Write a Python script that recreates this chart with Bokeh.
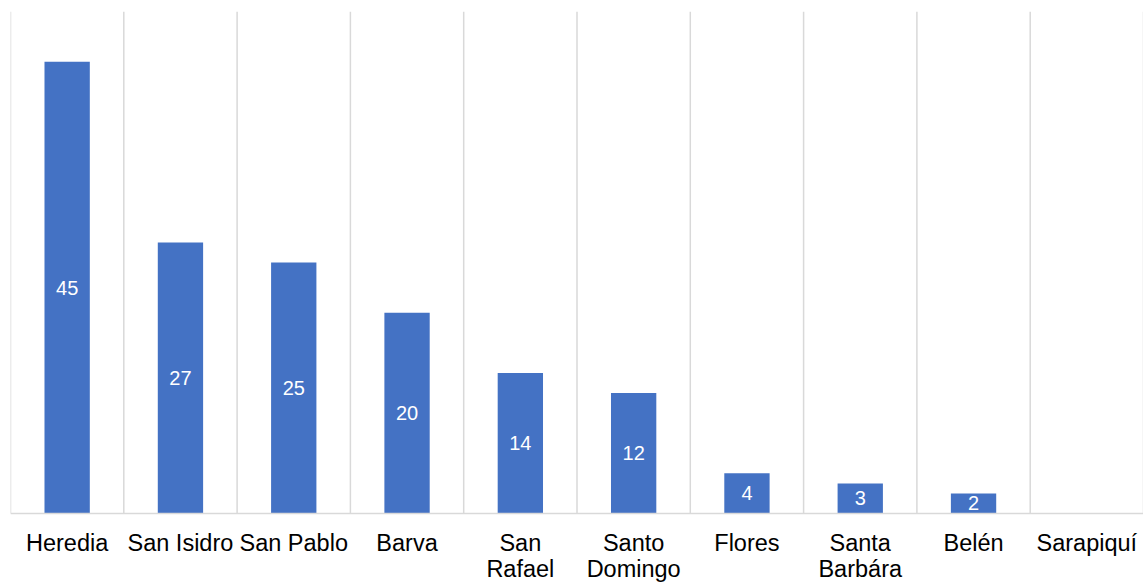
from bokeh.plotting import figure
from bokeh.models import ColumnDataSource, Range1d, LabelSet, Span
from bokeh.core.properties import value
from bokeh.embed import file_html
from bokeh.resources import INLINE

categories = ["Heredia", "San Isidro", "San Pablo", "Barva", "San\nRafael",
              "Santo\nDomingo", "Flores", "Santa\nBarbára", "Belén", "Sarapiquí"]
values = [45, 27, 25, 20, 14, 12, 4, 3, 2, 0]
y_max = 50

n = len(categories)
xs = [i + 0.5 for i in range(n)]
parts = [c.split("\n") for c in categories]
src = ColumnDataSource(dict(
    x=xs,
    top=values,
    mid=[v / 2 for v in values],
    zero=[0] * n,
    line1=[pp[0] for pp in parts],
    line2=[pp[1] if len(pp) > 1 else "" for pp in parts],
    lab=[str(v) if v > 0 else "" for v in values],
))

# frame spans from 11px to 582px; the value axis (0..50) occupies 11..513px
H, top_pad, plot_h = 582, 11, 502
below = (H - top_pad - plot_h) * y_max / plot_h

p = figure(width=1143, height=H, output_backend="svg", toolbar_location=None,
           x_range=Range1d(0, n), y_range=Range1d(-below, y_max),
           min_border_left=10, min_border_right=0, min_border_top=top_pad, min_border_bottom=0)
p.outline_line_color = None
p.background_fill_color = "white"
p.border_fill_color = "white"
p.xaxis.visible = False
p.yaxis.visible = False
p.xgrid.grid_line_color = None
p.ygrid.grid_line_color = None

# category separator lines
bounds = list(range(n + 1))
p.segment(x0=bounds, x1=bounds, y0=[0] * len(bounds), y1=[y_max] * len(bounds),
          line_color="#D9D9D9", line_width=1.5)
# baseline
p.add_layout(Span(location=0, dimension="width", line_color="#D9D9D9", line_width=1.5))

p.vbar(x="x", top="top", bottom=0, width=0.4, source=src, color="#4472C4", line_color=None)

labels = LabelSet(x="x", y="mid", text="lab", source=src, text_color="white",
                  text_font=value("Liberation Sans"), text_font_size="20px",
                  text_align="center", text_baseline="middle")
p.add_layout(labels)

for field, off in (("line1", -29), ("line2", -55)):
    p.add_layout(LabelSet(x="x", y="zero", text=field, source=src, text_color="black",
                          text_font=value("Liberation Sans"), text_font_size="23.5px",
                          text_align="center", text_baseline="middle", y_offset=off))

open("out.html", "w").write(file_html(p, INLINE))
